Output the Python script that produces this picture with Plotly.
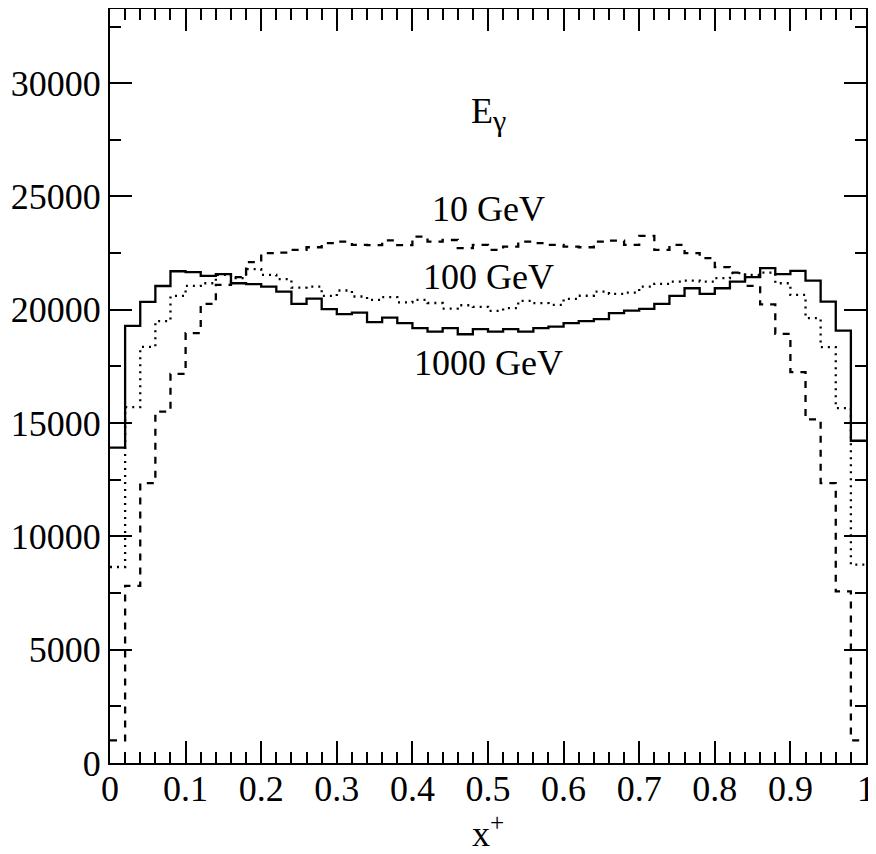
import plotly.graph_objects as go

# ---- data (50 bins over x+ in [0, 1]) ----
n_bins = 50
bin_edges = [i / n_bins for i in range(n_bins + 1)]

e1000_gev = [13920, 19290, 20350, 21050, 21700, 21660, 21495, 21570, 21170, 21130,
             21025, 20805, 20260, 20495, 20025, 19805, 19875, 19455, 19650, 19410,
             19190, 19040, 19190, 18920, 19145, 19040, 19145, 19040, 19190, 19260,
             19410, 19500, 19585, 19850, 19965, 20040, 20260, 20610, 20950, 20700,
             20950, 21245, 21440, 21835, 21570, 21715, 21290, 20360, 19080, 14220]

e100_gev = [8650, 15700, 18360, 19500, 20610, 21055, 21170, 21540, 21395, 21790,
            21540, 21350, 20980, 21025, 20610, 20850, 20585, 20435, 20560, 20330,
            20440, 20300, 20050, 20200, 20130, 19950, 20070, 20390, 20290, 20220,
            20480, 20620, 20805, 20700, 20760, 21025, 21145, 21245, 21290, 21245,
            21395, 21615, 21540, 21640, 21170, 20655, 19630, 18350, 15660, 8750]

e10_gev = [1000, 7820, 12350, 15510, 17170, 18970, 20260, 21100, 21440, 22100,
           22500, 22520, 22640, 22760, 22940, 23010, 22860, 22850, 23060, 22850,
           23230, 23010, 23080, 22720, 22860, 22640, 22790, 23010, 22940, 22860,
           22790, 22760, 23010, 23050, 22860, 23260, 22640, 22860, 22500, 22280,
           21880, 21640, 21055, 20240, 18940, 17250, 15160, 12350, 7570, 1000]

x_ticks = [0, 0.1, 0.2, 0.3, 0.4, 0.5, 0.6, 0.7, 0.8, 0.9, 1]
x_tick_text = ["0", "0.1", "0.2", "0.3", "0.4", "0.5", "0.6", "0.7", "0.8", "0.9", "1"]
y_ticks = [0, 5000, 10000, 15000, 20000, 25000, 30000]
y_tick_text = ["0", "5000", "10000", "15000", "20000", "25000", "30000"]

labels = ["E<sub><span style='font-size:30px'>γ</span></sub>", "10 GeV", "100 GeV", "1000 GeV"]
label_x = [0.5, 0.5, 0.5, 0.5]
label_y = [28650, 24450, 21450, 17650]

FONT = "Liberation Serif, Times New Roman, serif"

fig = go.Figure()


def add_hist(values, dash, name):
    fig.add_trace(go.Scatter(
        x=bin_edges,
        y=values + [values[-1]],
        mode="lines",
        line=dict(color="black", width=2.3, dash=dash, shape="hv"),
        name=name,
        showlegend=False,
        hoverinfo="skip",
    ))


add_hist(e10_gev, "7px,7px", "10 GeV")
add_hist(e100_gev, "2px,5px", "100 GeV")
add_hist(e1000_gev, "solid", "1000 GeV")

for t, xx, yy in zip(labels, label_x, label_y):
    fig.add_annotation(x=xx, y=yy, text=t, showarrow=False,
                       xanchor="center", yanchor="middle",
                       font=dict(family=FONT, size=36, color="black"))

axis_common = dict(
    showline=True, linecolor="black", linewidth=2, mirror="ticks",
    ticks="inside", tickcolor="black", tickwidth=2, ticklen=22,
    showgrid=False, zeroline=False, ticklabeloverflow="allow",
    tickfont=dict(family=FONT, size=36, color="black"),
)

fig.update_xaxes(
    range=[0, 1], tickvals=x_ticks, ticktext=x_tick_text,
    ticklabelstandoff=-7,
    minor=dict(dtick=0.02, ticks="inside", ticklen=11, tickwidth=2, tickcolor="black", showgrid=False),
    title=dict(text="x<sup>+</sup>", font=dict(family=FONT, size=36, color="black"), standoff=16),
    **axis_common,
)
fig.update_yaxes(
    range=[0, 33273], tickvals=y_ticks, ticktext=y_tick_text,
    minor=dict(dtick=2500, ticks="inside", ticklen=11, tickwidth=2, tickcolor="black", showgrid=False),
    **axis_common,
)

# the page body adds an 8px margin, so the figure is sized to fit the window
fig.update_layout(
    width=868, height=846,
    margin=dict(l=102, r=10, t=1, b=91, autoexpand=False),
    plot_bgcolor="white", paper_bgcolor="white",
    font=dict(family=FONT, size=36, color="black"),
)

fig.write_html("out.html")
